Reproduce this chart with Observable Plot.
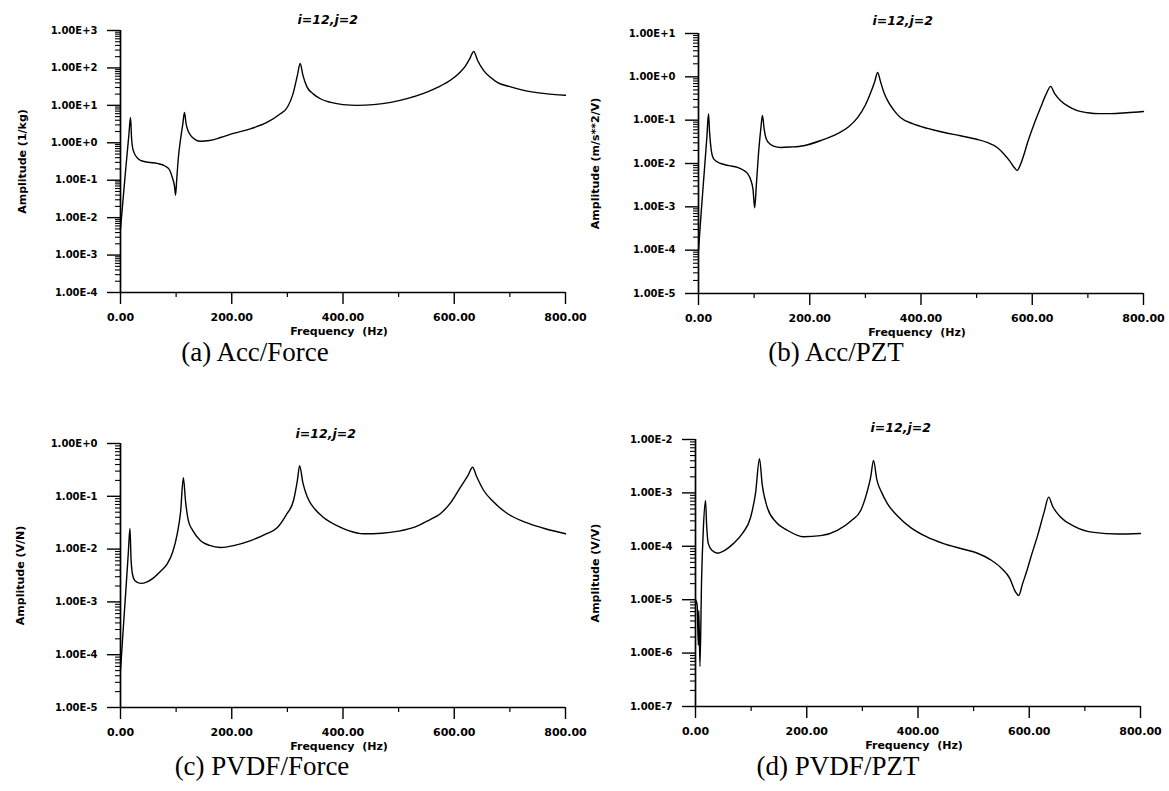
<!DOCTYPE html>
<html><head><meta charset="utf-8">
<script src="https://cdn.jsdelivr.net/npm/d3@7"></script>
<script src="https://cdn.jsdelivr.net/npm/@observablehq/plot@0.6"></script>
<style>
html,body{margin:0;padding:0;background:#fff;}
#root{position:relative;width:1169px;height:791px;overflow:hidden;background:#fff;}
.panel{position:absolute;}
.panel svg{overflow:visible;max-width:none;}
.cap{position:absolute;font-family:"Liberation Serif","Times New Roman",serif;font-size:27px;line-height:1;color:#000;white-space:nowrap;transform:translateX(-50%);}
</style></head><body><div id="root"></div>
<script>
// ---- data (frequency in Hz, amplitude as log10) ----
const freqA = [0,5,10,15,18,20,22,24,30,36,50,66,80,88,93,97,99,101,104,108,112,115,118,122,126,135,144,160,180,203,235,264,285,300,310,318,323,328,335,347,360,378,400,426,455,486,515,545,570,593,610,620,628,635,642,653,665,678,700,725,760,800];
const logAmpA = [-2.3,-1.45,-0.6,0.2,0.68,0.1,-0.15,-0.25,-0.4,-0.47,-0.52,-0.55,-0.62,-0.72,-0.92,-1.15,-1.4,-1.0,-0.4,0.1,0.5,0.81,0.5,0.3,0.2,0.08,0.04,0.06,0.14,0.25,0.38,0.55,0.75,0.95,1.3,1.8,2.12,1.8,1.5,1.3,1.17,1.08,1.02,1.0,1.02,1.08,1.18,1.32,1.48,1.67,1.88,2.05,2.25,2.44,2.2,1.93,1.75,1.61,1.5,1.4,1.32,1.27];

const freqB = [0,5,10,15,18,20,23,26,32,40,55,70,80,88,94,98,101,104,108,112,115,118,121,126,135,148,165,189,220,250,270,286,300,310,317,322,327,333,340,350,363,385,412,440,471,500,520,537,549,560,568,573,578,585,591,603,615,625,633,640,651,665,681,700,720,741,770,800];
const logAmpB = [-4.0,-3.1,-2.25,-1.4,-0.85,-1.3,-1.7,-1.86,-1.95,-2.0,-2.05,-2.09,-2.15,-2.23,-2.38,-2.6,-3.02,-2.5,-1.75,-1.2,-0.89,-1.2,-1.4,-1.52,-1.6,-1.63,-1.62,-1.59,-1.47,-1.31,-1.15,-0.94,-0.65,-0.35,-0.1,0.1,-0.1,-0.35,-0.55,-0.75,-0.94,-1.08,-1.19,-1.28,-1.36,-1.44,-1.52,-1.63,-1.78,-1.95,-2.1,-2.16,-2.05,-1.8,-1.54,-1.1,-0.71,-0.4,-0.22,-0.38,-0.55,-0.68,-0.78,-0.83,-0.85,-0.85,-0.83,-0.8];

const freqC = [0,5,10,14,17,19,22,26,36,48,60,72,84,94,102,108,113,117,122,130,144,160,180,205,234,260,282,298,311,318,322,328,336,350,365,390,410,437,470,500,530,555,575,595,611,625,633,640,653,670,696,730,765,800];
const logAmpC = [-4.3,-3.5,-2.72,-2.08,-1.61,-2.2,-2.5,-2.6,-2.65,-2.62,-2.54,-2.42,-2.28,-2.05,-1.71,-1.3,-0.65,-1.1,-1.46,-1.65,-1.84,-1.93,-1.97,-1.93,-1.84,-1.72,-1.59,-1.35,-1.08,-0.7,-0.42,-0.75,-1.02,-1.25,-1.4,-1.56,-1.65,-1.71,-1.7,-1.66,-1.58,-1.45,-1.33,-1.1,-0.83,-0.6,-0.45,-0.62,-0.89,-1.1,-1.33,-1.5,-1.62,-1.71];

const freqD = [0,3,5,6,8,11,14,18,20,23,30,40,52,68,85,99,108,115,120,129,145,165,194,225,255,280,297,308,315,320,326,335,345,365,387,415,446,480,507,530,549,565,575,581,588,596,603,615,627,635,642,657,680,716,760,800];
const logAmpD = [-5.0,-5.1,-5.85,-5.2,-6.25,-4.6,-3.7,-3.14,-3.6,-3.95,-4.08,-4.13,-4.08,-3.95,-3.75,-3.46,-3.0,-2.36,-2.85,-3.27,-3.55,-3.7,-3.82,-3.8,-3.7,-3.52,-3.33,-3.0,-2.7,-2.39,-2.75,-3.0,-3.2,-3.45,-3.65,-3.82,-3.95,-4.05,-4.13,-4.25,-4.4,-4.6,-4.85,-4.92,-4.7,-4.45,-4.2,-3.8,-3.35,-3.08,-3.25,-3.46,-3.62,-3.74,-3.77,-3.76];

// ---- tick values / labels ----
const xTicks = [0,200,400,600,800];
const xMinorTicks = [100,300,500,700];
const yTicksA = [1e-4,1e-3,1e-2,1e-1,1e0,1e1,1e2,1e3];
const yTicksB = [1e-5,1e-4,1e-3,1e-2,1e-1,1e0,1e1];
const yTicksC = [1e-5,1e-4,1e-3,1e-2,1e-1,1e0];
const yTicksD = [1e-7,1e-6,1e-5,1e-4,1e-3,1e-2];
const titles = ["i=12,j=2","i=12,j=2","i=12,j=2","i=12,j=2"];
const yLabels = ["Amplitude (1/kg)","Amplitude (m/s**2/V)","Amplitude (V/N)","Amplitude (V/V)"];
const xLabel = "Frequency\u00a0\u00a0(Hz)";
const captions = ["(a) Acc/Force","(b) Acc/PZT","(c) PVDF/Force","(d) PVDF/PZT"];

// ---- layout ----
const layout = [
  {left:0,   top:0,   mL:120, mT:30, h:262, yOff:98,  tDx:177, tUp:11, capX:255, capY:339},
  {left:570, top:0,   mL:128, mT:33, h:260, yOff:103, tDx:174, tUp:13, capX:836, capY:339},
  {left:0,   top:400, mL:120, mT:43, h:264, yOff:100, tDx:175, tUp:10, capX:262, capY:753},
  {left:570, top:400, mL:125, mT:39, h:267, yOff:100, tDx:175, tUp:12, capX:838, capY:753}
];
const series = [[freqA,logAmpA,yTicksA],[freqB,logAmpB,yTicksB],[freqC,logAmpC,yTicksC],[freqD,logAmpD,yTicksD]];

const FONT = "DejaVu Sans, Verdana, sans-serif";
const fmtE = d => { const e = Math.round(Math.log10(d)); return "1.00E" + (e >= 0 ? "+" : "-") + Math.abs(e); };

const root = document.getElementById("root");
series.forEach(([freq, logAmp, yTicks], k) => {
  const L = layout[k];
  const data = freq.map((f, i) => ({f, a: Math.pow(10, logAmp[i])}));
  const lo = yTicks[0], hi = yTicks[yTicks.length - 1];
  const minor = [];
  for (let e = Math.round(Math.log10(lo)); e < Math.round(Math.log10(hi)); e++)
    for (let m = 2; m <= 9; m++) minor.push(m * Math.pow(10, e));
  const svg = Plot.plot({
    width: L.mL + 445 + 20,
    height: L.mT + L.h + 50,
    marginLeft: L.mL, marginRight: 20, marginTop: L.mT, marginBottom: 50,
    style: {background: "transparent", overflow: "visible", color: "#000"},
    x: {domain: [0, 800], label: null},
    y: {type: "log", domain: [lo, hi], label: null},
    marks: [
      Plot.axisY(minor, {tickSize: 5, tickFormat: () => "", strokeWidth: 1.1, label: null}),
      Plot.axisY(yTicks, {tickSize: 13, tickPadding: 10, tickFormat: fmtE, fontFamily: FONT, fontWeight: "bold", fontSize: 10, strokeWidth: 1.4, label: null}),
      Plot.axisX(xMinorTicks, {tickSize: 5, tickFormat: () => "", strokeWidth: 1.2, label: null}),
      Plot.axisX(xTicks, {tickSize: 12, tickPadding: 9, tickFormat: d => d.toFixed(2), fontFamily: FONT, fontWeight: "bold", fontSize: 11, strokeWidth: 1.4, label: null}),
      Plot.ruleX([0], {stroke: "#000", strokeWidth: 1.7}),
      Plot.ruleY([lo], {stroke: "#000", strokeWidth: 1.7}),
      Plot.line(data, {x: "f", y: "a", stroke: "#000", strokeWidth: 1.4, curve: "monotone-x"}),
      Plot.text([titles[k]], {frameAnchor: "top-left", dx: L.tDx, dy: -L.tUp, text: d => d, textAnchor: "start", lineAnchor: "middle", fontFamily: FONT, fontWeight: "bold", fontStyle: "italic", fontSize: 12.5}),
      Plot.text([yLabels[k]], {frameAnchor: "left", dx: -L.yOff, rotate: -90, text: d => d, textAnchor: "middle", lineAnchor: "middle", fontFamily: FONT, fontWeight: "bold", fontSize: 11}),
      Plot.text([xLabel], {frameAnchor: "bottom", dx: -4, dy: 39, text: d => d, textAnchor: "middle", lineAnchor: "middle", fontFamily: FONT, fontWeight: "bold", fontSize: 11})
    ]
  });
  const div = document.createElement("div");
  div.className = "panel";
  div.style.left = L.left + "px";
  div.style.top = L.top + "px";
  div.style.width = (L.mL + 465) + "px";
  div.appendChild(svg);
  root.appendChild(div);

  const cap = document.createElement("div");
  cap.className = "cap";
  cap.style.left = L.capX + "px";
  cap.style.top = L.capY + "px";
  cap.textContent = captions[k];
  root.appendChild(cap);
});
</script></body></html>
